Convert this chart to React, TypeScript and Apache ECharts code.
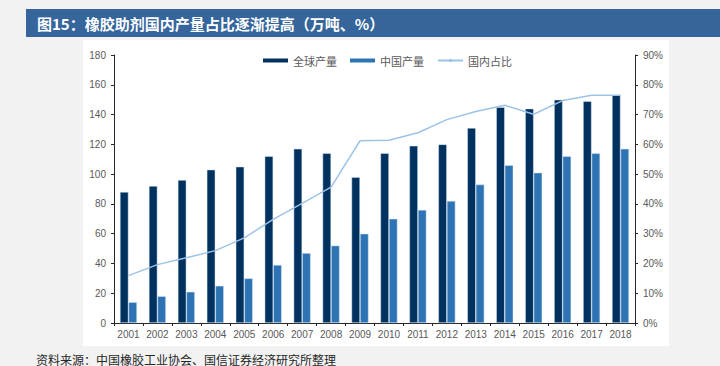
import React, { useEffect, useRef } from "react";
import * as echarts from "echarts";

const years = ["2001","2002","2003","2004","2005","2006","2007","2008","2009","2010","2011","2012","2013","2014","2015","2016","2017","2018"];
const globalOutput = [88, 92, 96, 103, 105, 112, 117, 114, 98, 114, 119, 120, 131, 145, 144, 150, 149, 153];
const chinaOutput = [14, 18, 21, 25, 30, 39, 47, 52, 60, 70, 76, 82, 93, 106, 101, 112, 114, 117];
const domesticShare = [15.9, 19.6, 21.9, 24.3, 28.6, 34.8, 40.2, 45.6, 61.2, 61.4, 63.9, 68.3, 71.0, 73.1, 70.1, 74.7, 76.5, 76.5];
const seriesNames = ["全球产量", "中国产量", "国内占比"];
const titleText = "图15：橡胶助剂国内产量占比逐渐提高（万吨、%）";
const sourceText = "资料来源：中国橡胶工业协会、国信证券经济研究所整理";

export default function App() {
  const ref = useRef<HTMLDivElement>(null);
  useEffect(() => {
    document.body.style.margin = "0";
    const chart = echarts.init(ref.current!, null, { renderer: "svg" });
    const axisText = { color: "#595959", fontSize: 10, fontFamily: "Liberation Sans, Arial, sans-serif" };
    chart.setOption({
      animation: false,
      backgroundColor: "#f2f2f2",
      graphic: [
        { type: "rect", shape: { x: 83, y: 40, width: 586, height: 306 }, style: { fill: "#ffffff" }, z: -10 },
        { type: "rect", shape: { x: 26, y: 9, width: 694, height: 28 }, style: { fill: "#35659b" }, z: -10 },
        { type: "text", x: 37, y: 23, style: { text: titleText, fill: "#ffffff", fontSize: 15, fontWeight: "bold", fontFamily: "Noto Sans CJK SC", verticalAlign: "middle" } },
        { type: "text", x: 36, y: 359, style: { text: sourceText, fill: "#262626", fontSize: 12, fontFamily: "Noto Sans CJK SC", verticalAlign: "middle" } },
      ],
      legend: {
        left: 258,
        top: 50,
        itemWidth: 25,
        itemHeight: 4,
        itemGap: 13,
        itemStyle: { borderWidth: 0 },
        textStyle: { color: "#595959", fontSize: 11, fontFamily: "Noto Sans CJK SC" },
        data: [
          { name: seriesNames[0], icon: "rect" },
          { name: seriesNames[1], icon: "rect" },
          { name: seriesNames[2] },
        ],
      },
      grid: { left: 114, right: 85, top: 55, bottom: 43, containLabel: false },
      xAxis: {
        type: "category",
        data: years,
        axisLine: { lineStyle: { color: "#262626", width: 1 } },
        axisTick: { show: true, length: 3, lineStyle: { color: "#262626" } },
        axisLabel: { ...axisText, margin: 6 },
      },
      yAxis: [
        {
          type: "value",
          min: 0,
          max: 180,
          interval: 20,
          axisLine: { show: true, lineStyle: { color: "#262626" } },
          axisTick: { show: true, length: 3, lineStyle: { color: "#262626" } },
          axisLabel: { ...axisText, margin: 8 },
          splitLine: { show: false },
        },
        {
          type: "value",
          min: 0,
          max: 90,
          interval: 10,
          position: "right",
          axisLine: { show: true, lineStyle: { color: "#262626" } },
          axisTick: { show: true, length: 3, lineStyle: { color: "#262626" } },
          axisLabel: { ...axisText, margin: 8, formatter: "{value}%" },
          splitLine: { show: false },
        },
      ],
      series: [
        {
          name: seriesNames[0],
          type: "bar",
          data: globalOutput,
          barGap: "0%",
          barCategoryGap: "41%",
          itemStyle: { color: "#01315f", borderColor: "rgba(220,232,245,0.8)", borderWidth: 0.6 },
        },
        {
          name: seriesNames[1],
          type: "bar",
          data: chinaOutput,
          barGap: "0%",
          barCategoryGap: "41%",
          itemStyle: { color: "#2e74b5", borderColor: "rgba(220,232,245,0.8)", borderWidth: 0.6 },
        },
        {
          name: seriesNames[2],
          type: "line",
          yAxisIndex: 1,
          data: domesticShare,
          symbol: "none",
          lineStyle: { color: "#9dc3e6", width: 1.5 },
          itemStyle: { color: "#9dc3e6" },
        },
      ],
    });
    return () => chart.dispose();
  }, []);
  return <div ref={ref} style={{ width: 720, height: 366 }} />;
}
